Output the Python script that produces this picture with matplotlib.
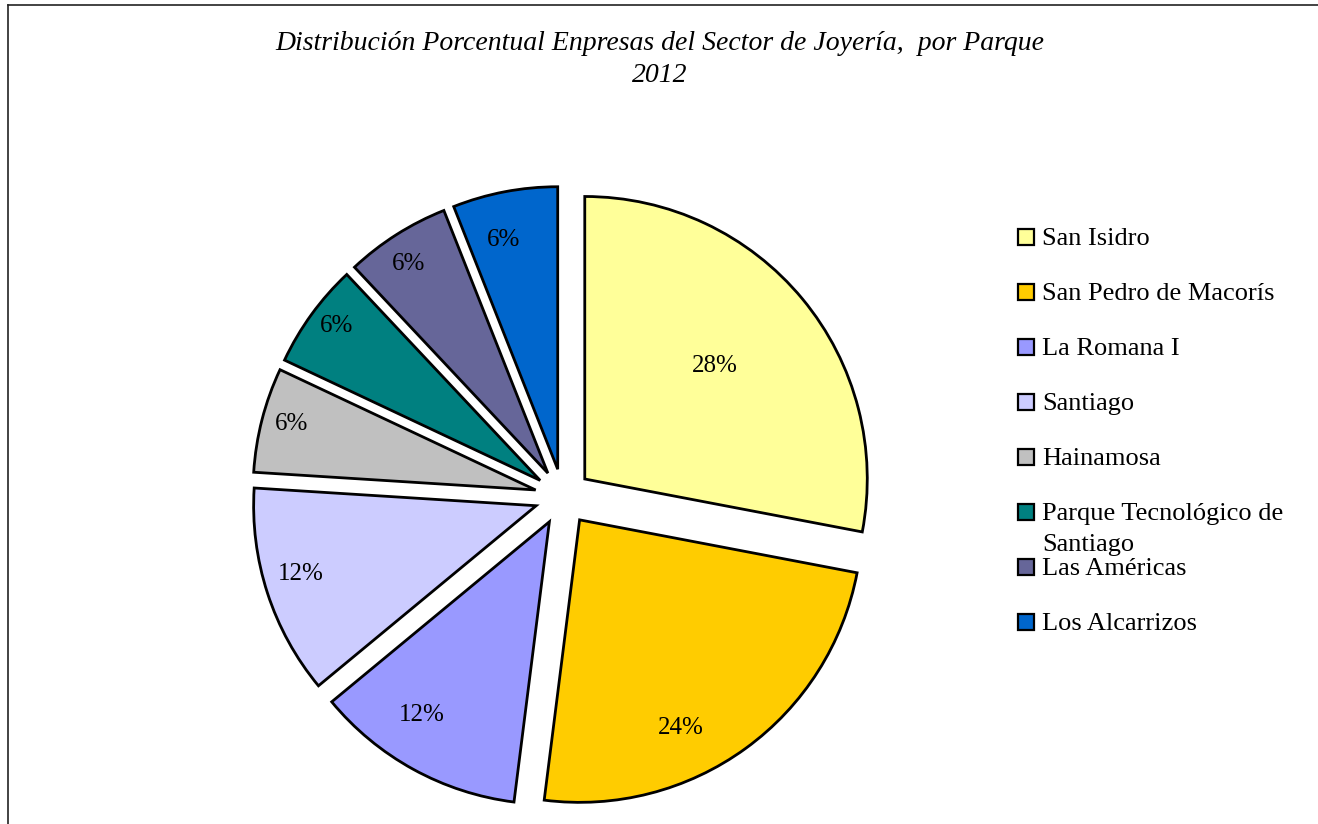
import matplotlib
matplotlib.use("Agg")
import matplotlib.pyplot as plt
import numpy as np
from matplotlib.lines import Line2D
from matplotlib.patches import Rectangle

parques = ["San Isidro", "San Pedro de Macorís", "La Romana I", "Santiago", "Hainamosa",
           "Parque Tecnológico de\nSantiago", "Las Américas", "Los Alcarrizos"]
porcentajes = [28, 24, 12, 12, 6, 6, 6, 6]
colores = ["#FFFF99", "#FFCC00", "#9999FF", "#CCCCFF", "#C0C0C0",
           "#008080", "#666699", "#0066CC"]
# label placement per slice (Excel "best fit"): fraction of radius, angle tweak in degrees
dist_etiqueta = [0.61, 0.82, 0.82, 0.866, 0.896, 0.905, 0.89, 0.834]
giro_etiqueta = [1.4, -10.0, -4.5, -1.8, -0.7, -1.1, 1.2, 2.6]

W, H = 1318, 824
R = 282.5                   # pie radius in pixels
cx, cy = 563, 824 - 497     # pie centre in pixels (from bottom-left)

plt.rcParams["font.family"] = ["Liberation Serif", "DejaVu Serif"]

fig = plt.figure(figsize=(W / 100, H / 100), dpi=100)
ax = fig.add_axes([0, 0, 1, 1])

wedges, _, autotexts = ax.pie(
    porcentajes, colors=colores, startangle=90, counterclock=False,
    explode=[0.1] * len(porcentajes), autopct="%1.0f%%",
    wedgeprops=dict(edgecolor="black", linewidth=2.0),
    textprops=dict(fontsize=18, color="black"))
for w, t, d, g in zip(wedges, autotexts, dist_etiqueta, giro_etiqueta):
    ang = np.deg2rad((w.theta1 + w.theta2) / 2 + g)
    x0, y0 = w.center
    t.set_position((x0 + d * w.r * np.cos(ang), y0 + d * w.r * np.sin(ang)))

ax.set_aspect("auto")
ax.set_xlim(-cx / R, (W - cx) / R)
ax.set_ylim(-cy / R, (H - cy) / R)
ax.axis("off")

fig.text(660 / W, 1 - 44 / H, "Distribución Porcentual Enpresas del Sector de Joyería,  por Parque",
         ha="center", va="center", fontsize=20, style="italic")
fig.text(660 / W, 1 - 76 / H, "2012", ha="center", va="center", fontsize=20, style="italic")

# legend drawn by hand: fixed spacing, wrapped label runs into the next slot
for i, (nombre, color) in enumerate(zip(parques, colores)):
    yc = 237 + 55 * i
    fig.add_artist(Rectangle((1018 / W, 1 - (yc + 8) / H), 16 / W, 16 / H,
                             facecolor=color, edgecolor="black", linewidth=1.6,
                             transform=fig.transFigure))
    for k, t in enumerate(nombre.split("\n")):
        fig.text(1042 / W, 1 - (yc + 2 + 31 * k) / H, t, ha="left", va="center", fontsize=19)

# chart frame (only left and top edges visible)
fig.add_artist(Line2D([8 / W, 8 / W], [0, 1 - 5 / H], color="#222222", linewidth=1.2,
                      transform=fig.transFigure))
fig.add_artist(Line2D([8 / W, 1], [1 - 5 / H, 1 - 5 / H], color="#222222", linewidth=1.2,
                      transform=fig.transFigure))

fig.savefig("out.png", dpi=100, facecolor="white")
